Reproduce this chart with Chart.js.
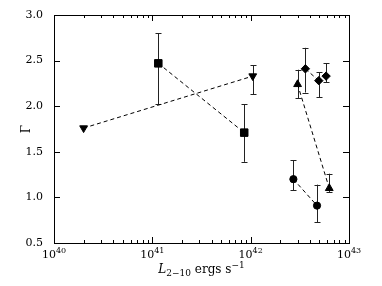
<!DOCTYPE html>
<html>
<head>
<meta charset="utf-8">
<script src="https://cdn.jsdelivr.net/npm/chart.js@4"></script>
<style>
html, body { margin: 0; padding: 0; background: #fff; }
#wrap { width: 382px; height: 286px; }
</style>
</head>
<body>
<div id="wrap"><canvas id="gammaChart"></canvas></div>
<script>
// L(2-10 keV) in erg/s, photon index Gamma, and error bar ends
const triDownL = [2.0e40, 1.05e42];
const triDownG = [1.76, 2.33];
const triDownLo = [null, 2.13];
const triDownHi = [null, 2.45];

const squareL = [1.15e41, 8.6e41];
const squareG = [2.47, 1.71];
const squareLo = [2.02, 1.39];
const squareHi = [2.80, 2.02];

const triUpL = [3.0e42, 6.3e42];
const triUpG = [2.24, 1.10];
const triUpLo = [2.09, 1.06];
const triUpHi = [2.40, 1.26];

const circleL = [2.72e42, 4.73e42];
const circleG = [1.20, 0.91];
const circleLo = [1.08, 0.73];
const circleHi = [1.41, 1.14];

const diamondL = [3.6e42, 4.93e42, 5.85e42];
const diamondG = [2.41, 2.28, 2.33];
const diamondLo = [2.15, 2.10, 2.26];
const diamondHi = [2.64, 2.37, 2.47];

const xDecades = [40, 41, 42, 43];
const yTicks = [0.5, 1.0, 1.5, 2.0, 2.5, 3.0];

const FONT = '"DejaVu Serif", "Liberation Serif", serif';

function series(xs, ys, lo, hi, style, rotation, radius, lineTo) {
    return {
        data: xs.map((x, i) => ({ x: x, y: ys[i] })),
        errLo: lo,
        errHi: hi,
        showLine: true,
        borderColor: '#000',
        borderWidth: 1,
        borderDash: [4, 3],
        // only join points up to index lineTo
        segment: {
            borderColor: c => (c.p1DataIndex <= lineTo ? '#000' : 'rgba(0,0,0,0)')
        },
        pointStyle: style,
        pointRotation: rotation,
        pointRadius: radius,
        pointBackgroundColor: '#000',
        pointBorderColor: '#000',
        pointBorderWidth: 1,
        fill: false
    };
}

// error bars, drawn under the markers
const errorBars = {
    id: 'errorBars',
    beforeDatasetsDraw(chart) {
        const ctx = chart.ctx;
        const xs = chart.scales.x, ys = chart.scales.y;
        ctx.save();
        ctx.strokeStyle = '#222';
        ctx.lineWidth = 1;
        chart.data.datasets.forEach(ds => {
            ds.data.forEach((p, i) => {
                if (ds.errLo[i] == null) return;
                const px = Math.round(xs.getPixelForValue(p.x)) + 0.5;
                const yl = ys.getPixelForValue(ds.errLo[i]);
                const yh = ys.getPixelForValue(ds.errHi[i]);
                ctx.beginPath();
                ctx.moveTo(px, yl); ctx.lineTo(px, yh);
                ctx.moveTo(px - 3, Math.round(yl) + 0.5); ctx.lineTo(px + 3, Math.round(yl) + 0.5);
                ctx.moveTo(px - 3, Math.round(yh) + 0.5); ctx.lineTo(px + 3, Math.round(yh) + 0.5);
                ctx.stroke();
            });
        });
        ctx.restore();
    }
};

// frame, inward ticks on all sides, power-of-ten labels and axis titles
const frame = {
    id: 'frame',
    afterDraw(chart) {
        const ctx = chart.ctx;
        const a = chart.chartArea;
        const xs = chart.scales.x, ys = chart.scales.y;
        ctx.save();
        ctx.strokeStyle = '#000';
        ctx.lineWidth = 1;
        ctx.strokeRect(Math.round(a.left) + 0.5, Math.round(a.top) + 0.5,
            Math.round(a.right - a.left), Math.round(a.bottom - a.top));

        ctx.beginPath();
        xDecades.forEach((d, k) => {
            for (let m = 1; m <= 9; m++) {
                if (k === xDecades.length - 1 && m > 1) break;
                const px = Math.round(xs.getPixelForValue(m * Math.pow(10, d))) + 0.5;
                const len = m === 1 ? 6 : 3;
                ctx.moveTo(px, a.bottom); ctx.lineTo(px, a.bottom - len);
                ctx.moveTo(px, a.top); ctx.lineTo(px, a.top + len);
            }
        });
        yTicks.forEach(v => {
            const py = Math.round(ys.getPixelForValue(v)) + 0.5;
            ctx.moveTo(a.left, py); ctx.lineTo(a.left + 6, py);
            ctx.moveTo(a.right, py); ctx.lineTo(a.right - 6, py);
        });
        ctx.stroke();

        ctx.fillStyle = '#000';
        ctx.textBaseline = 'alphabetic';
        xDecades.forEach(d => {
            const px = xs.getPixelForValue(Math.pow(10, d));
            ctx.font = '11px ' + FONT;
            const wb = ctx.measureText('10').width;
            ctx.font = '8px ' + FONT;
            const we = ctx.measureText(String(d)).width;
            const x0 = px - (wb + we) / 2;
            ctx.font = '11px ' + FONT;
            ctx.textAlign = 'left';
            ctx.fillText('10', x0, a.bottom + 15);
            ctx.font = '8px ' + FONT;
            ctx.fillText(String(d), x0 + wb, a.bottom + 10);
        });

        // x title: L_{2-10} ergs s^-1
        const parts = [
            { t: 'L', f: 'italic 12px ' + FONT, dy: 0 },
            { t: '2\u221210', f: '9px ' + FONT, dy: 3 },
            { t: ' ergs s', f: '12px ' + FONT, dy: 0 },
            { t: '\u22121', f: '9px ' + FONT, dy: -5 }
        ];
        let total = 0;
        parts.forEach(p => { ctx.font = p.f; p.w = ctx.measureText(p.t).width; total += p.w; });
        let cx = (a.left + a.right) / 2 - total / 2;
        const base = a.bottom + 30;
        parts.forEach(p => {
            ctx.font = p.f;
            ctx.fillText(p.t, cx, base + p.dy);
            cx += p.w;
        });

        // y title
        ctx.translate(27, (a.top + a.bottom) / 2);
        ctx.rotate(-Math.PI / 2);
        ctx.font = '12px ' + FONT;
        ctx.textAlign = 'center';
        ctx.textBaseline = 'middle';
        ctx.fillText('\u0393', 0, 0);
        ctx.restore();
    }
};

const ctx = document.getElementById('gammaChart').getContext('2d');
const chart = new Chart(ctx, {
    type: 'scatter',
    data: {
        datasets: [
            series(triDownL, triDownG, triDownLo, triDownHi, 'triangle', 180, 4.5, 1),
            series(squareL, squareG, squareLo, squareHi, 'rect', 0, 5.3, 1),
            series(triUpL, triUpG, triUpLo, triUpHi, 'triangle', 0, 4.5, 1),
            series(circleL, circleG, circleLo, circleHi, 'circle', 0, 3.6, 1),
            series(diamondL, diamondG, diamondLo, diamondHi, 'rectRot', 0, 4.2, 1)
        ]
    },
    options: {
        responsive: true,
        maintainAspectRatio: false,
        animation: false,
        events: [],
        layout: { padding: { top: 15, right: 33, left: 0, bottom: 0 } },
        plugins: {
            legend: { display: false },
            tooltip: { enabled: false }
        },
        scales: {
            x: {
                type: 'logarithmic',
                min: 1e40,
                max: 1e43,
                grid: { display: false },
                border: { display: false },
                ticks: { display: false },
                afterFit: s => { s.height = 43; }
            },
            y: {
                type: 'linear',
                min: 0.5,
                max: 3.0,
                grid: { display: false },
                border: { display: false },
                afterBuildTicks: s => { s.ticks = yTicks.map(v => ({ value: v })); },
                ticks: {
                    padding: 3,
                    color: '#000',
                    font: { family: FONT, size: 11 },
                    callback: v => Number(v).toFixed(1)
                },
                afterFit: s => { s.width = 54; }
            }
        }
    },
    plugins: [errorBars, frame]
});
</script>
</body>
</html>
